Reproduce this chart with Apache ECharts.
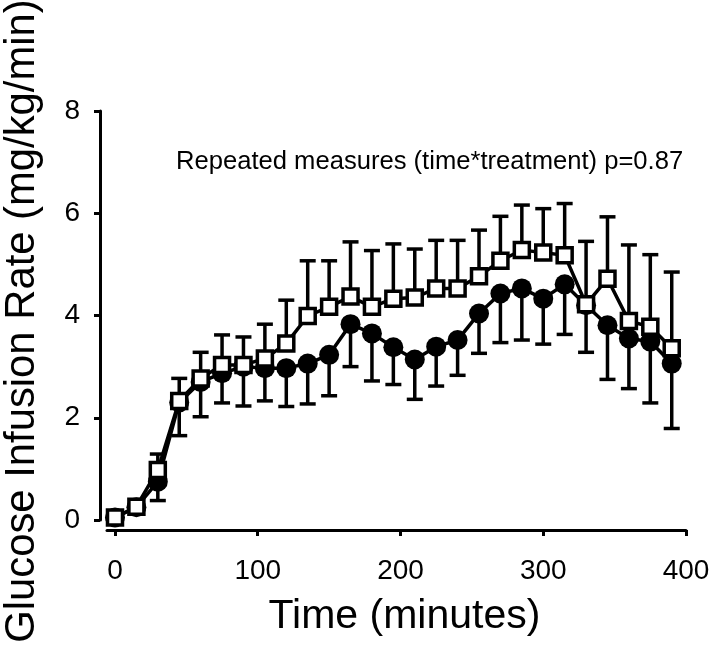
<!DOCTYPE html>
<html>
<head>
<meta charset="utf-8">
<script src="https://cdn.jsdelivr.net/npm/echarts@6/dist/echarts.min.js"></script>
<style>html,body{margin:0;padding:0;background:#fff;}#c{width:709px;height:646px;}</style>
</head>
<body>
<div id="c"></div>
<script>
const times = [0,15,30,45,60,75,90,105,120,135,150,165,180,195,210,225,240,255,270,285,300,315,330,345,360,375,390];
const circleMean = [0.05,0.25,0.75,2.30,2.70,2.87,3.00,2.97,2.97,3.06,3.23,3.83,3.65,3.38,3.14,3.39,3.52,4.04,4.43,4.53,4.33,4.61,4.20,3.81,3.55,3.49,3.06];
const circleSem  = [0,0,0.37,0.65,0.68,0.58,0.77,0.64,0.75,0.79,0.80,0.83,0.93,0.73,0.78,0.77,0.69,0.78,0.96,1.01,0.89,0.98,0.92,1.06,0.98,1.20,1.27];
const squareMean = [0.05,0.26,0.98,2.33,2.77,3.03,3.03,3.16,3.45,3.99,4.17,4.37,4.17,4.33,4.35,4.53,4.53,4.77,5.07,5.28,5.23,5.18,4.22,4.72,3.89,3.78,3.36];
const squareSem  = [0,0,0.31,0.44,0.51,0.59,0.55,0.67,0.85,1.08,0.90,1.07,1.10,1.07,0.95,0.94,0.94,0.90,0.87,0.88,0.86,1.01,1.23,1.21,1.49,1.41,1.49];
const xTicks = [0,100,200,300,400];
const yTicks = [0,2,4,6,8];
const annotation = 'Repeated measures (time*treatment) p=0.87';
const xName = 'Time (minutes)';
const yName = 'Glucose Infusion Rate (mg/kg/min)';

const FONT = "'Liberation Sans', Arial, sans-serif";

function errData(mean, sem, dir) {
  return times.map((t, i) => [t, mean[i], sem[i], dir]);
}
function errRender(params, api) {
  const x = api.value(0), y = api.value(1), e = api.value(2), dir = api.value(3);
  if (!e) return null;
  const p0 = api.coord([x, y]);
  const p1 = api.coord([x, y + dir * e]);
  const st = { stroke: '#000', lineWidth: 3.5 };
  return {
    type: 'group',
    children: [
      { type: 'line', shape: { x1: p0[0], y1: p0[1], x2: p1[0], y2: p1[1] }, style: st },
      { type: 'line', shape: { x1: p1[0] - 8, y1: p1[1], x2: p1[0] + 8, y2: p1[1] }, style: st }
    ]
  };
}

const chart = echarts.init(document.getElementById('c'), null, { renderer: 'canvas' });
chart.setOption({
  animation: false,
  backgroundColor: '#fff',
  textStyle: { fontFamily: FONT, color: '#000' },
  title: {
    text: annotation, left: 171, top: 144,
    textStyle: { fontFamily: FONT, fontSize: 25.6, fontWeight: 'normal', color: '#000' }
  },
  graphic: [{
    type: 'text', x: 22, y: 321, rotation: Math.PI / 2,
    style: { text: yName, font: "41.8px 'Liberation Sans', Arial, sans-serif", fill: '#000', align: 'center', verticalAlign: 'middle' }
  }],
  grid: [
    { left: 100, right: 23, top: 111, bottom: 126, containLabel: false, outerBoundsMode: 'none' },
    { left: 107, right: 23, top: 111, bottom: 116, containLabel: false, outerBoundsMode: 'none' }
  ],
  xAxis: [
    { gridIndex: 0, type: 'value', min: -10.5, max: 400, show: false },
    {
      gridIndex: 1, type: 'value', min: -5.6, max: 400,
      name: xName, nameLocation: 'middle', nameGap: 66,
      nameTextStyle: { fontFamily: FONT, fontSize: 41, color: '#000', padding: [0, 0, 0, 16] },
      axisLine: { show: true, onZero: false, lineStyle: { color: '#000', width: 3 } },
      axisTick: { show: true, length: 6, lineStyle: { color: '#000', width: 3 }, customValues: xTicks },
      axisLabel: { fontFamily: FONT, fontSize: 28, color: '#000', margin: 27, customValues: xTicks },
      splitLine: { show: false }
    }
  ],
  yAxis: [
    {
      gridIndex: 0, type: 'value', min: 0, max: 8, interval: 2,
      axisLine: { show: true, onZero: false, lineStyle: { color: '#000', width: 3 } },
      axisTick: { show: true, length: 6, lineStyle: { color: '#000', width: 3 }, customValues: yTicks },
      axisLabel: { fontFamily: FONT, fontSize: 28, color: '#000', margin: 20, customValues: yTicks },
      splitLine: { show: false }
    },
    { gridIndex: 1, type: 'value', min: 0, max: 8, show: false }
  ],
  series: [
    {
      type: 'custom', xAxisIndex: 0, yAxisIndex: 0, z: 1,
      data: errData(circleMean, circleSem, -1), renderItem: errRender
    },
    {
      type: 'line', xAxisIndex: 0, yAxisIndex: 0, z: 2,
      data: times.map((t, i) => [t, circleMean[i]]),
      symbol: 'circle', symbolSize: 20,
      lineStyle: { color: '#000', width: 3.5 },
      itemStyle: { color: '#000', borderWidth: 0 }
    },
    {
      type: 'custom', xAxisIndex: 0, yAxisIndex: 0, z: 3,
      data: errData(squareMean, squareSem, 1), renderItem: errRender
    },
    {
      type: 'line', xAxisIndex: 0, yAxisIndex: 0, z: 4,
      data: times.map((t, i) => [t, squareMean[i]]),
      symbol: 'rect', symbolSize: 15,
      lineStyle: { color: '#000', width: 3.5 },
      itemStyle: { color: '#fff', borderColor: '#000', borderWidth: 3.5 }
    }
  ]
});
</script>
</body>
</html>
